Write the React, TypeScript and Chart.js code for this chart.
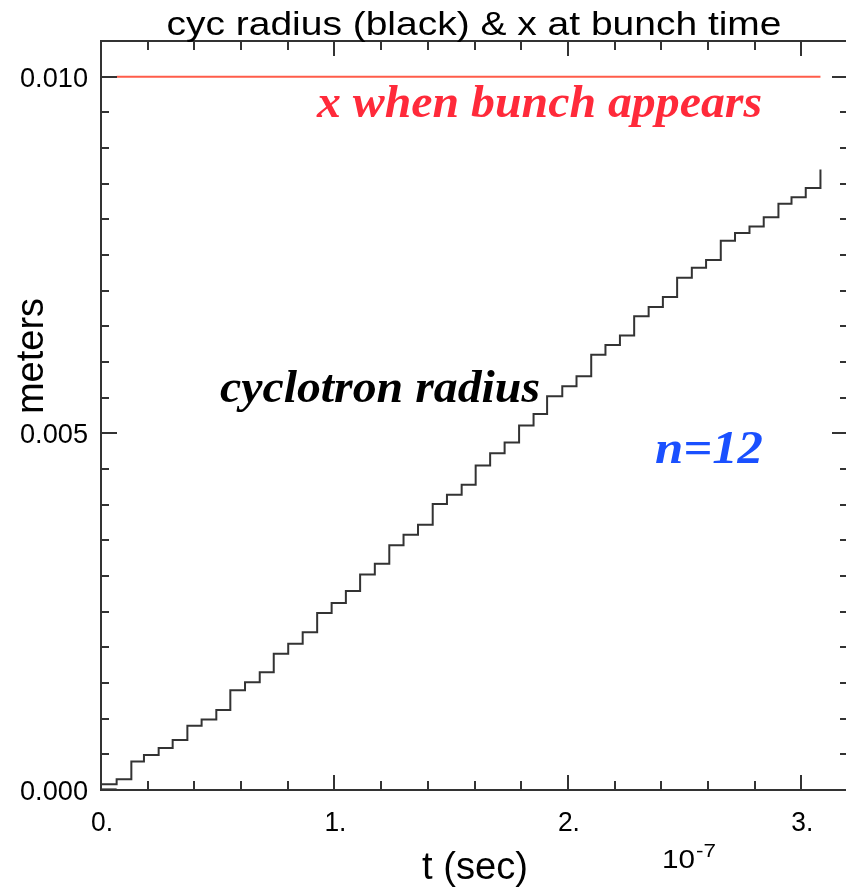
import React, { useEffect, useRef } from "react";
import { Chart, registerables } from "chart.js";

Chart.register(...registerables);

// time in units of 1e-7 s
const stepTimes = [
  0.000, 0.067, 0.130, 0.184, 0.247, 0.307, 0.370, 0.431, 0.494, 0.554,
  0.617, 0.680, 0.740, 0.802, 0.864, 0.926, 0.988, 1.049, 1.110, 1.173,
  1.235, 1.296, 1.358, 1.421, 1.482, 1.545, 1.605, 1.667, 1.729, 1.791,
  1.853, 1.911, 1.976, 2.037, 2.100, 2.161, 2.223, 2.284, 2.346, 2.407,
  2.468, 2.531, 2.592, 2.655, 2.716, 2.778, 2.839, 2.902, 2.958, 3.019,
  3.082,
];
// cyclotron radius (meters)
const cycRadius = [
  0.00008, 0.00015, 0.00040, 0.00049, 0.00059, 0.00070, 0.00090, 0.00099, 0.00112, 0.00140,
  0.00151, 0.00165, 0.00191, 0.00205, 0.00221, 0.00248, 0.00262, 0.00279, 0.00302, 0.00317,
  0.00343, 0.00358, 0.00372, 0.00401, 0.00414, 0.00428, 0.00455, 0.00472, 0.00487, 0.00511,
  0.00527, 0.00552, 0.00566, 0.00580, 0.00610, 0.00624, 0.00637, 0.00664, 0.00677, 0.00691,
  0.00718, 0.00732, 0.00743, 0.00770, 0.00781, 0.00790, 0.00803, 0.00822, 0.00831, 0.00844,
  0.00870,
];
const baseTimes = [0.0, 0.067];
const baseValues = [0.0, 0.0];
const bunchTimes = [0.067, 3.082];
const bunchX = [0.010, 0.010];

const xMajorTicks = [0, 1, 2, 3];
const xTickLabels = ["0.", "1.", "2.", "3."];
const yMajorTicks = [0, 0.005, 0.01];
const yTickLabels = ["0.000", "0.005", "0.010"];
const X_MINOR_STEP = 0.2;
const Y_MINOR_STEP = 0.0005;

const TITLE = "cyc radius (black) & x at bunch time";
const X_TITLE = "t (sec)";
const Y_TITLE = "meters";

const AXIS_COLOR = "#333333";
const STEP_COLOR = "#333333";
const BUNCH_COLOR = "#ff5c4a";

function drawFit(
  ctx: CanvasRenderingContext2D,
  text: string,
  font: string,
  x: number,
  y: number,
  targetW: number,
  align: CanvasTextAlign,
  color: string,
  rotate = 0
) {
  ctx.save();
  ctx.font = font;
  ctx.fillStyle = color;
  ctx.textBaseline = "alphabetic";
  ctx.textAlign = align;
  const w = ctx.measureText(text).width;
  const sx = w > 0 ? targetW / w : 1;
  ctx.translate(x, y);
  if (rotate) ctx.rotate(rotate);
  ctx.scale(sx, 1);
  ctx.fillText(text, 0, 0);
  ctx.restore();
}

const framePlugin = {
  id: "idlFrame",
  afterDraw(chart: any) {
    const ctx: CanvasRenderingContext2D = chart.ctx;
    const { left, right, top, bottom } = chart.chartArea;
    const xs = chart.scales.x;
    const ys = chart.scales.y;
    ctx.save();
    ctx.strokeStyle = AXIS_COLOR;
    ctx.lineWidth = 2;
    ctx.beginPath();
    ctx.rect(left, top, right - left, bottom - top);
    ctx.stroke();

    // x ticks (bottom and top)
    const nX = Math.round((xs.max - xs.min) / X_MINOR_STEP);
    ctx.beginPath();
    for (let i = 0; i <= nX; i++) {
      const v = xs.min + i * X_MINOR_STEP;
      const isMajor = xMajorTicks.some((m) => Math.abs(m - v) < 1e-6);
      const len = isMajor ? 15 : 9;
      const px = Math.round(xs.getPixelForValue(v));
      ctx.moveTo(px, bottom);
      ctx.lineTo(px, bottom - len);
      ctx.moveTo(px, top);
      ctx.lineTo(px, top + len);
    }
    // y ticks (left and right)
    const nY = Math.round((ys.max - ys.min) / Y_MINOR_STEP);
    for (let i = 0; i <= nY; i++) {
      const v = ys.min + i * Y_MINOR_STEP;
      const isMajor = yMajorTicks.some((m) => Math.abs(m - v) < 1e-9);
      const len = isMajor ? 16 : 8;
      const py = Math.round(ys.getPixelForValue(v));
      ctx.moveTo(left, py);
      ctx.lineTo(left + len, py);
      ctx.moveTo(right, py);
      ctx.lineTo(right - len, py);
    }
    ctx.stroke();
    ctx.restore();

    const sans = "'Liberation Sans', Arial, Helvetica, sans-serif";
    const serifBI = "bold italic 47px 'Liberation Serif', 'Times New Roman', serif";

    // tick labels
    xMajorTicks.forEach((v, i) => {
      const px = xs.getPixelForValue(v);
      drawFit(ctx, xTickLabels[i], `28px ${sans}`, px + 1, 831, 22, "center", "#000");
    });
    yMajorTicks.forEach((v, i) => {
      const py = ys.getPixelForValue(v);
      drawFit(ctx, yTickLabels[i], `28px ${sans}`, 88, py + 10, 68, "right", "#000");
    });

    // exponent label
    drawFit(ctx, "10", `26px ${sans}`, 662, 868, 33, "left", "#000");
    drawFit(ctx, "-7", `19px ${sans}`, 696, 857, 20, "left", "#000");

    // titles
    drawFit(ctx, TITLE, `34px ${sans}`, 474, 35, 615, "center", "#000");
    drawFit(ctx, X_TITLE, `39px ${sans}`, 475, 879, 106, "center", "#000");
    drawFit(ctx, Y_TITLE, `38px ${sans}`, 43, 356, 116, "center", "#000", -Math.PI / 2);

    // annotations
    drawFit(ctx, "cyclotron radius", serifBI, 220, 402, 320, "left", "#000");
    drawFit(ctx, "x when bunch appears", serifBI, 317, 117, 445, "left", "#ff2a3a");
    drawFit(ctx, "n=12", serifBI, 655, 463, 108, "left", "#1a50ff");
  },
};

export default function App() {
  const ref = useRef<HTMLCanvasElement | null>(null);
  useEffect(() => {
    document.body.style.margin = "0";
    document.body.style.overflow = "hidden";
    const canvas = ref.current;
    if (!canvas) return;
    const chart = new Chart(canvas, {
      type: "line",
      data: {
        datasets: [
          {
            label: "cyc radius",
            data: stepTimes.map((t, i) => ({ x: t, y: cycRadius[i] })),
            borderColor: STEP_COLOR,
            borderWidth: 2,
            pointRadius: 0,
            stepped: true,
            fill: false,
          },
          {
            label: "base",
            data: baseTimes.map((t, i) => ({ x: t, y: baseValues[i] })),
            borderColor: "#000",
            borderWidth: 3,
            pointRadius: 0,
            fill: false,
          },
          {
            label: "x at bunch time",
            data: bunchTimes.map((t, i) => ({ x: t, y: bunchX[i] })),
            borderColor: BUNCH_COLOR,
            borderWidth: 2,
            pointRadius: 0,
            fill: false,
          },
        ],
      },
      options: {
        responsive: false,
        animation: false,
        devicePixelRatio: 1,
        layout: { padding: { left: 101, top: 41, right: 2, bottom: 99 } },
        scales: {
          x: { type: "linear", min: 0, max: 3.2, display: false },
          y: { type: "linear", min: 0, max: 0.0105, display: false },
        },
        plugins: {
          legend: { display: false },
          tooltip: { enabled: false },
          title: { display: false },
        },
      },
      plugins: [framePlugin],
    });
    return () => chart.destroy();
  }, []);
  return (
    <canvas
      ref={ref}
      width={850}
      height={889}
      style={{ position: "fixed", left: 0, top: 0, width: 850, height: 889, background: "#fff" }}
    />
  );
}
